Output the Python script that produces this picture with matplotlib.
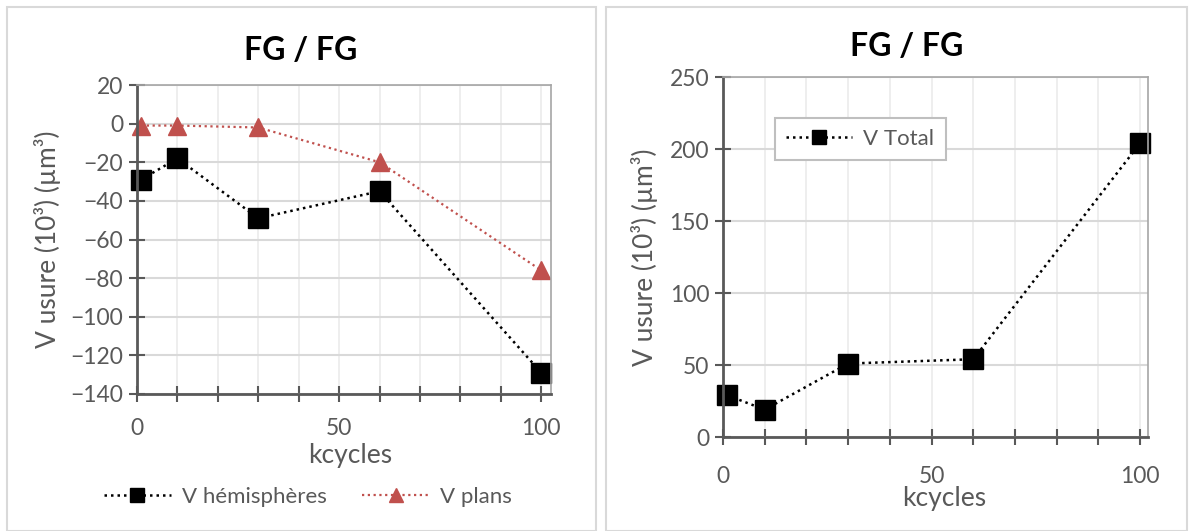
import matplotlib
matplotlib.use("Agg")
import matplotlib.pyplot as plt
from matplotlib.patches import Rectangle
from matplotlib.ticker import MultipleLocator

plt.rcParams['font.family'] = ['Lato', 'DejaVu Sans']

# data (kcycles, volume in 10^3 um^3)
kcycles = [1, 10, 30, 60, 100]
v_hemispheres = [-29, -18, -49, -35, -129]
v_plans = [-1, -1, -2, -20, -76]
v_total = [29, 19, 51, 54, 204]

title = "FG / FG"
xlabel = "kcycles"
ylabel = "V usure (10³) (µm³)"

txt_col = "#595959"
axis_col = "#595959"
grid_col = "#d9d9d9"
red = "#c0504d"
dots = (0, (1, 1.6))

W, H = 1189, 531
fig = plt.figure(figsize=(W / 100, H / 100), dpi=100)

# panel frames, like the Excel chart areas
for x0, x1 in [(7, 596), (606, 1187)]:
    fig.patches.append(Rectangle((x0 / W, 0), (x1 - x0) / W, 1 - 7 / H,
                                 transform=fig.transFigure, fill=False,
                                 edgecolor="#d9d9d9", lw=1.5))


def style_axes(ax, ymin, ymax, ystep, xmax):
    ax.set_xlim(0, xmax)
    ax.set_ylim(ymin, ymax)
    ax.xaxis.set_major_locator(MultipleLocator(50))
    ax.xaxis.set_minor_locator(MultipleLocator(10))
    ax.yaxis.set_major_locator(MultipleLocator(ystep))
    ax.grid(which="both", axis="x", color="#ebebeb", lw=1.2)
    ax.grid(which="major", axis="y", color=grid_col, lw=1.5)
    ax.set_axisbelow(True)
    for s in ["top", "right"]:
        ax.spines[s].set_color("#a6a6a6")
        ax.spines[s].set_linewidth(1.2)
    for s in ["left", "bottom"]:
        ax.spines[s].set_color(axis_col)
        ax.spines[s].set_linewidth(2)
    ax.tick_params(which="both", direction="inout", color=axis_col, width=1.5,
                   labelcolor=txt_col, labelsize=16.5, length=12)
    ax.tick_params(axis="y", pad=4)
    ax.set_xlabel(xlabel, color=txt_col, fontsize=19)
    ax.set_ylabel(ylabel, color=txt_col, fontsize=19)


# left panel
ax1 = fig.add_axes([137 / W, 1 - 394 / H, 414 / W, 309 / H])
ax1.plot(kcycles, v_hemispheres, color="black", ls=dots, lw=1.8, marker="s",
         ms=14, mfc="black", mec="black", label="V hémisphères", clip_on=False)
ax1.plot(kcycles, v_plans, color=red, ls=dots, lw=1.6, marker="^",
         ms=13, mfc=red, mec=red, label="V plans", clip_on=False)
style_axes(ax1, -140, 20, 20, 102.4)
ax1.tick_params(axis="x", pad=11)
ax1.xaxis.set_label_coords((350 - 137) / 414, (394 - 443) / 309)
ax1.yaxis.set_label_coords((61 - 137) / 414, 0.5)
fig.text(301 / W, 1 - 50 / H, title, ha="center", va="center",
         fontsize=23, fontweight="bold")
fig.legend(handles=ax1.get_lines(), loc="center", bbox_to_anchor=(308 / W, 1 - 497 / H),
           ncol=2, frameon=False, fontsize=16, labelcolor=txt_col, handlelength=3.0,
           handletextpad=0.5, columnspacing=1.6, markerscale=0.75)

# right panel
ax2 = fig.add_axes([723 / W, 1 - 437 / H, 425 / W, 360 / H])
ax2.plot(kcycles, v_total, color="black", ls=dots, lw=1.8, marker="s",
         ms=14, mfc="black", mec="black", label="V Total", clip_on=False)
style_axes(ax2, 0, 250, 50, 101.9)
ax2.tick_params(axis="x", pad=15)
ax2.xaxis.set_label_coords((944 - 723) / 425, (437 - 486) / 360)
ax2.yaxis.set_label_coords((658 - 723) / 425, 0.5)
fig.text(907 / W, 1 - 46 / H, title, ha="center", va="center",
         fontsize=23, fontweight="bold")
leg = ax2.legend(loc="center", bbox_to_anchor=(860 / W, 1 - 139 / H),
                 bbox_transform=fig.transFigure, fontsize=16, labelcolor=txt_col,
                 handlelength=3.0, handletextpad=0.5, markerscale=0.75, fancybox=False,
                 framealpha=1, edgecolor="#bfbfbf", borderpad=0.5)
leg.get_frame().set_linewidth(1.5)

fig.savefig("out.png", dpi=100)
